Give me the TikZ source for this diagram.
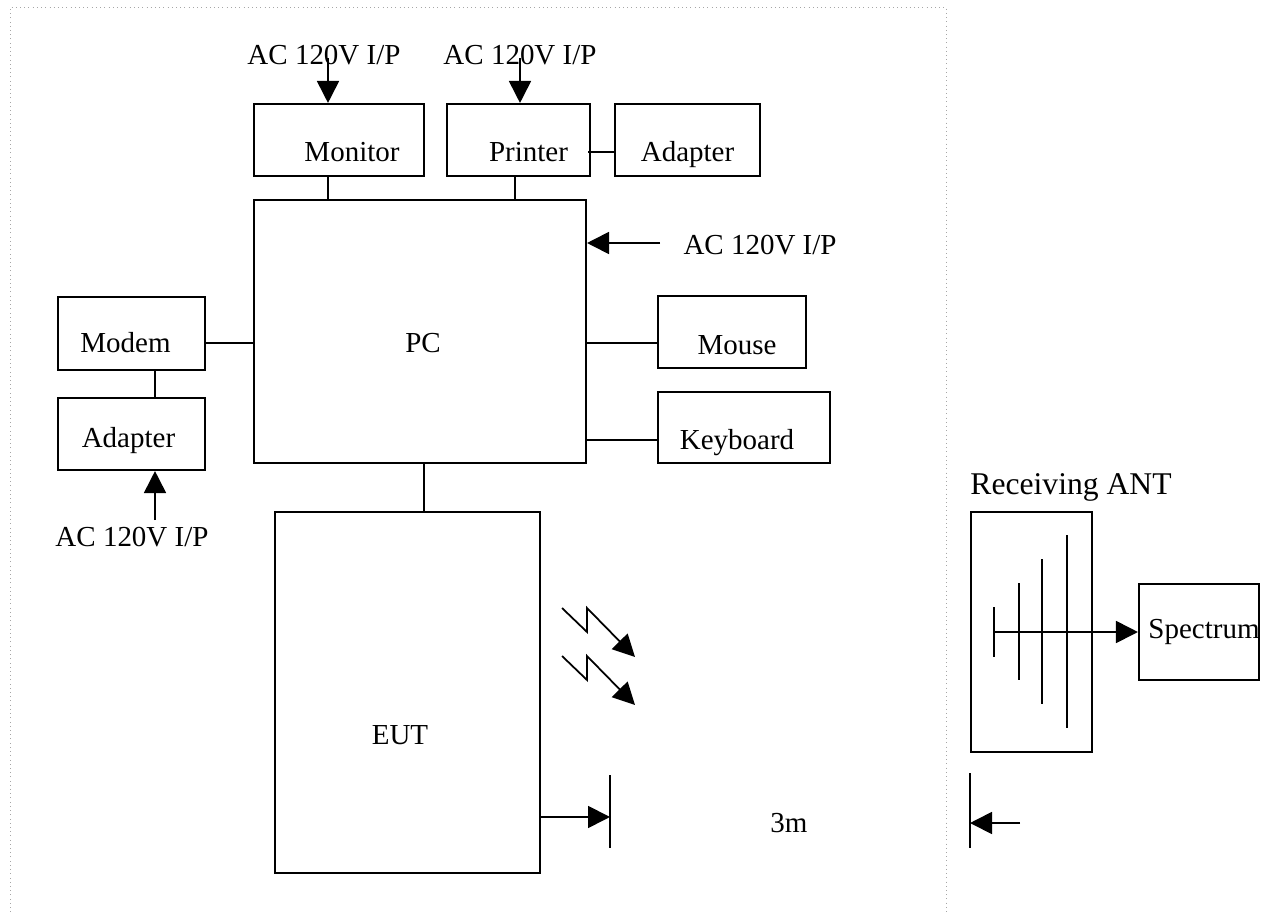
\documentclass[tikz,border=0pt]{standalone}
\usepackage{fontspec}
\setmainfont{Liberation Serif}
\usetikzlibrary{arrows.meta, calc}

\begin{document}
\begin{tikzpicture}[x=0.02cm, y=-0.02cm,
          box/.style={draw, line width=1.2pt, rectangle, inner sep=0pt},
          txt/.style={font=\fontsize{16.5}{20}\selectfont, inner sep=0pt},
          wire/.style={line width=1pt},
          arr/.style={line width=1pt, -{Triangle[length=0.44cm, width=0.44cm]}}
        ]
        \useasboundingbox (0,0) rectangle (1274,916);
        \draw[gray!70, dotted] (10,912) -- (10,7) -- (946,7) -- (946,912);

        % boxes
        \node[box, minimum width=3.4cm, minimum height=1.44cm,
              label={[txt, xshift=0.26cm, yshift=-0.24cm]center:Monitor}] (mon) at (339,140) {};
        \node[box, minimum width=2.86cm, minimum height=1.44cm,
              label={[txt, xshift=0.2cm, yshift=-0.24cm]center:Printer}] (prn) at (518.5,140) {};
        \node[box, minimum width=2.9cm, minimum height=1.44cm,
              label={[txt, yshift=-0.3cm]center:Adapter}] (adpa) at (687.5,140) {};
        \node[box, minimum width=6.64cm, minimum height=5.26cm,
              label={[txt, xshift=0.06cm, yshift=-0.23cm]center:PC}] (pc) at (420,331.5) {};
        \node[box, minimum width=2.96cm, minimum height=1.44cm,
              label={[txt, xshift=0.1cm, yshift=-0.26cm]center:Mouse}] (mouse) at (732,332) {};
        \node[box, minimum width=3.44cm, minimum height=1.42cm,
              label={[txt, xshift=-0.14cm, yshift=-0.3cm]center:Keyboard}] (kbd) at (744,427.5) {};
        \node[box, minimum width=2.94cm, minimum height=1.46cm,
              label={[txt, xshift=-0.12cm, yshift=-0.19cm]center:Modem}] (modem) at (131.5,333.5) {};
        \node[box, minimum width=2.94cm, minimum height=1.44cm,
              label={[txt, xshift=-0.06cm, yshift=-0.14cm]center:Adapter}] (adpb) at (131.5,434) {};
        \node[box, minimum width=5.3cm, minimum height=7.22cm,
              label={[txt, xshift=-0.15cm, yshift=-0.85cm]center:EUT}] (eut) at (407.5,692.5) {};
        \node[box, minimum width=2.42cm, minimum height=4.8cm] (ant) at (1031.5,632) {};
        \node[box, minimum width=2.4cm, minimum height=1.92cm,
              label={[txt, xshift=0.1cm]center:Spectrum}] (spec) at (1199,632) {};
        \node[txt, font=\fontsize{18}{21}\selectfont] (antlbl) at (1071,487) {Receiving ANT};

        % power inputs
        \node[txt] (acmon) at (324,55) {AC 120V I/P};
        \node[txt] (acprn) at (520,55) {AC 120V I/P};
        \node[txt] (acpc) at (760,245) {AC 120V I/P};
        \node[txt] (acadp) at (132,537) {AC 120V I/P};
        \coordinate (pm) at (328,58);
        \coordinate (pp) at (520,58);
        \coordinate (pr) at (660,243);
        \coordinate (pa) at (155,520);
        \draw[arr] (pm) -- (pm |- mon.north);
        \draw[arr] (pp) -- (pp |- prn.north);
        \draw[arr] (pr) -- (pr -| pc.east);
        \draw[arr] (pa) -- (pa |- adpb.south);

        % cables
        \draw[wire] ([xshift=-0.22cm]mon.south) -- ([xshift=-0.22cm]mon.south |- pc.north);
        \draw[wire] ([xshift=-0.07cm]prn.south) -- ([xshift=-0.07cm]prn.south |- pc.north);
        \draw[wire] ([xshift=-0.06cm, yshift=-0.24cm]prn.east) -- ([yshift=-0.24cm]adpa.west);
        \draw[wire] ([yshift=-0.22cm]mouse.west) -- ([yshift=-0.22cm]mouse.west -| pc.east);
        \draw[wire] ([yshift=-0.25cm]kbd.west) -- ([yshift=-0.25cm]kbd.west -| pc.east);
        \draw[wire] ([yshift=-0.19cm]modem.east) -- ([yshift=-0.19cm]modem.east -| pc.west);
        \draw[wire] ([xshift=0.47cm]modem.south) -- ([xshift=0.47cm]modem.south |- adpb.north);
        \draw[wire] ([xshift=0.08cm]pc.south) -- ([xshift=0.08cm]pc.south |- eut.north);

        % radiation
        \foreach \dy in {0,48} {
          \draw[arr] (562,608+\dy) -- (587,632+\dy) -- (587,608+\dy) -- (635,657+\dy);
        }

        % distance 3m
        \coordinate (ba) at (610,775);
        \coordinate (bb) at (610,848);
        \coordinate (bc) at (970,773);
        \coordinate (bd) at (970,848);
        \coordinate (bq) at (1020,823);
        \draw[wire] (ba) -- (bb);
        \draw[wire] (bc) -- (bd);
        \draw[arr] ([yshift=-2.49cm]eut.east) -- ([yshift=-2.49cm]eut.east -| ba);
        \draw[arr] (bq) -- (bq -| bc);
        \node[txt] (dist) at (789,823) {3m};

        % antenna
        \coordinate (feed) at (994,632);
        \draw[wire] (994,607) -- (994,657);
        \draw[wire] (1019,583) -- (1019,680);
        \draw[wire] (1042,559) -- (1042,704);
        \draw[wire] (1067,535) -- (1067,728);
        \draw[arr] (feed) -- (spec.west);
\end{tikzpicture}
\end{document}
